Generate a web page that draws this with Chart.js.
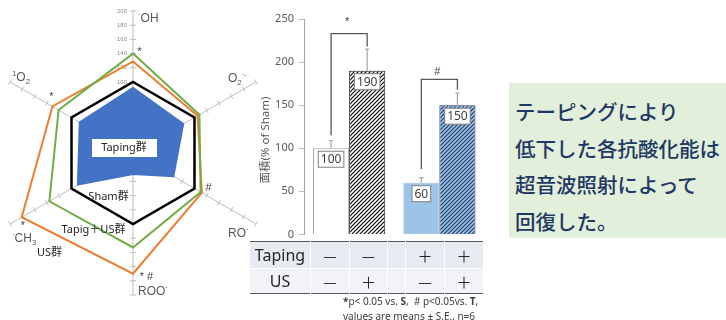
<!DOCTYPE html>
<html lang="ja">
<head>
    <meta charset="UTF-8">
    <title>抗酸化能</title>
    <script src="https://cdn.jsdelivr.net/npm/chart.js"></script>
    <style>
        body {
            margin: 0;
            width: 726px;
            height: 320px;
            position: relative;
            overflow: hidden;
            background: #fff;
            font-family: "Noto Sans", "Noto Sans CJK JP", sans-serif;
        }
        canvas { position: absolute; }
        #radar { left: -9px; top: 3px; }
        #bar { left: 250px; top: 0; }
        #cond {
            position: absolute;
            left: 250px;
            top: 241px;
            width: 228px;
            table-layout: fixed;
            border-collapse: collapse;
            border-top: 1.5px solid #595959;
            border-bottom: 1.5px solid #595959;
            color: #262626;
        }
        #cond td {
            padding: 0;
            text-align: center;
            border-left: 1.5px solid #fff;
            line-height: 1;
        }
        #cond tr:first-child td { background: #e8ebf2; height: 26px; }
        #cond tr:last-child td { background: #f2f3f8; height: 24px; border-top: 1.5px solid #fff; }
        #cond td.lab { font-size: 16px; border-left: none; }
        #cond td.sign { font-size: 15px; font-family: "Noto Sans CJK JP", sans-serif; }
        #note {
            position: absolute;
            left: 343px;
            top: 294px;
            font-size: 10px;
            line-height: 15px;
            color: #404040;
            white-space: nowrap;
        }
        #msg {
            position: absolute;
            left: 509px;
            top: 83px;
            width: 211px;
            height: 145px;
            padding: 10px 0 0 6px;
            background: #e2efda;
            color: #1f3864;
            font-family: "Noto Sans CJK JP", sans-serif;
            font-size: 20.5px;
            font-weight: 500;
            line-height: 36.5px;
            white-space: nowrap;
        }
    </style>
</head>
<body>
    <canvas id="radar" width="284" height="300"></canvas>
    <canvas id="bar" width="240" height="246"></canvas>
    <table id="cond"></table>
    <div id="note"><b>*</b>p&lt; 0.05 vs. <b>S</b>,&nbsp; # p&lt;0.05vs. <b>T</b>,<br>values are means ± S.E., n=6</div>
    <div id="msg">テーピングにより<br>低下した各抗酸化能は<br>超音波照射によって<br>回復した。</div>

    <script>
        // ---- radar data (% of Sham) ----
        const radicals = ['OH', 'O2', 'RO', 'ROO', 'CH3', '1O2'];
        const shamVals = [100, 100, 100, 100, 100, 100];
        const tapingVals = [92, 82, 66, 30, 90, 87];
        const tapingUsVals = [140, 108, 110, 133, 136, 121];
        const usVals = [129, 105, 112, 170, 181, 131];

        // ---- bar data ----
        const tapingGroups = ['Taping −', 'Taping +'];
        const usMinusVals = [100, 60];
        const usPlusVals = [190, 150];
        const usMinusErr = [9, 6];
        const usPlusErr = [25, 14];
        const bracketFrom = [115, 76];
        const bracketTop = [233, 180];
        const bracketTo = [218, 168];
        const bracketMark = ['*', '#'];
        const bracketMarkAt = [247, 189];

        // ---- table below bars ----
        const rowLabels = ['Taping', 'US'];
        const tapingSigns = ['—', '—', '', '＋', '＋'];
        const usSigns = ['—', '＋', '', '—', '＋'];

        Chart.defaults.font.family = '"Noto Sans", "Noto Sans CJK JP", sans-serif';

        // label pieces: s = sub / sup
        const labelParts = [
            [{ t: '·', s: 'sup' }, { t: 'OH' }],
            [{ t: 'O' }, { t: '2', s: 'sub' }, { t: '·-', s: 'sup' }],
            [{ t: 'RO' }, { t: '·', s: 'sup' }],
            [{ t: 'ROO' }, { t: '·', s: 'sup' }],
            [{ t: '·', s: 'sup' }, { t: 'CH' }, { t: '3', s: 'sub' }],
            [{ t: '1', s: 'sup' }, { t: 'O' }, { t: '2', s: 'sub' }]
        ];
        const labelShift = [[5, 11], [-28, 0], [-28, 13], [5, 0], [2, 18], [2, -1]];

        function richText(ctx, x, y, parts, size) {
            parts.forEach(p => {
                const fs = p.s ? size * 0.65 : size;
                ctx.font = fs + 'px "Liberation Sans", sans-serif';
                const dy = p.s === 'sub' ? size * 0.22 : p.s === 'sup' ? -size * 0.42 : 0;
                ctx.fillText(p.t, x, y + dy);
                x += ctx.measureText(p.t).width;
            });
        }

        const radarDecor = {
            id: 'radarDecor',
            beforeDatasetsDraw(chart) {
                const s = chart.scales.r;
                const ctx = chart.ctx;
                ctx.save();
                // small tick marks across each axis
                ctx.strokeStyle = '#bfbfbf';
                ctx.lineWidth = 1;
                for (let i = 0; i < radicals.length; i++) {
                    s.ticks.forEach(tk => {
                        if (tk.value === 0) return;
                        const p = s.getPointPositionForValue(i, tk.value);
                        const nx = -Math.sin(p.angle) * 3, ny = Math.cos(p.angle) * 3;
                        ctx.beginPath();
                        ctx.moveTo(p.x - nx, p.y - ny);
                        ctx.lineTo(p.x + nx, p.y + ny);
                        ctx.stroke();
                    });
                }
                // tick numbers on the top axis
                ctx.fillStyle = '#8c8c8c';
                ctx.font = '6px "Liberation Sans", sans-serif';
                ctx.textAlign = 'right';
                ctx.textBaseline = 'middle';
                s.ticks.forEach(tk => {
                    if (tk.value < 100) return;
                    const p = s.getPointPositionForValue(0, tk.value);
                    ctx.fillText(tk.value, p.x - 6, p.y);
                });
                ctx.restore();
            },
            afterDatasetsDraw(chart) {
                const s = chart.scales.r;
                const ctx = chart.ctx;
                const cx = s.xCenter, cy = s.yCenter;
                ctx.save();
                ctx.fillStyle = '#595959';
                ctx.textBaseline = 'alphabetic';
                ctx.textAlign = 'left';
                labelParts.forEach((parts, i) => {
                    const end = s.getPointPosition(i, s.drawingArea);
                    richText(ctx, end.x + labelShift[i][0], end.y + labelShift[i][1], parts, 12);
                });

                // group names
                ctx.fillStyle = '#fff';
                ctx.fillRect(cx - 41, cy - 14, 65, 18);
                ctx.fillStyle = '#262626';
                ctx.font = '11px "Noto Sans", "Noto Sans CJK JP", sans-serif';
                ctx.textAlign = 'center';
                ctx.textBaseline = 'middle';
                ctx.fillText('Taping群', cx - 9, cy - 5);
                ctx.fillText('Sham群', cx - 24.5, cy + 44);
                ctx.fillText('Tapig＋US群', cx - 39.5, cy + 76.5);
                ctx.fillText('US群', cx - 83.5, cy + 99.5);

                // significance marks
                ctx.fillStyle = '#404040';
                ctx.font = '11px "Liberation Sans", sans-serif';
                [['*', 6.5, -101], ['*', -81.5, -56.5], ['#', 75.5, 35], ['*', -110, 73], ['* #', 13.5, 124]]
                    .forEach(m => ctx.fillText(m[0], cx + m[1], cy + m[2]));
                ctx.restore();
            }
        };

        new Chart(document.getElementById('radar'), {
            type: 'radar',
            data: {
                labels: radicals,
                datasets: [
                    { label: 'Taping群', data: tapingVals, fill: true, backgroundColor: '#4472c4', borderColor: '#4472c4', borderWidth: 1.5 },
                    { label: 'Sham群', data: shamVals, fill: false, borderColor: '#000', borderWidth: 2.5 },
                    { label: 'Tapig＋US群', data: tapingUsVals, fill: false, borderColor: '#70ad47', borderWidth: 2 },
                    { label: 'US群', data: usVals, fill: false, borderColor: '#ed7d31', borderWidth: 2 }
                ]
            },
            options: {
                responsive: false,
                animation: false,
                elements: { point: { radius: 0 }, line: { tension: 0, borderJoinStyle: 'miter' } },
                plugins: { legend: { display: false }, tooltip: { enabled: false } },
                scales: {
                    r: {
                        min: 0,
                        max: 200,
                        ticks: { stepSize: 20, display: false },
                        grid: { display: false },
                        angleLines: { color: '#bfbfbf', lineWidth: 1 },
                        pointLabels: { display: false }
                    }
                }
            },
            plugins: [radarDecor]
        });

        // diagonal hatching
        function hatch(bg, fg) {
            const c = document.createElement('canvas');
            c.width = c.height = 4;
            const g = c.getContext('2d');
            g.fillStyle = bg;
            g.fillRect(0, 0, 4, 4);
            g.strokeStyle = fg;
            g.lineWidth = 1.1;
            g.beginPath();
            g.moveTo(-1, 5); g.lineTo(5, -1);
            g.moveTo(-1, 1); g.lineTo(1, -1);
            g.moveTo(3, 5); g.lineTo(5, 3);
            g.stroke();
            return document.getElementById('bar').getContext('2d').createPattern(c, 'repeat');
        }

        const barDecor = {
            id: 'barDecor',
            afterDatasetsDraw(chart) {
                const ctx = chart.ctx;
                const y = chart.scales.y;
                const m0 = chart.getDatasetMeta(0).data;
                const m1 = chart.getDatasetMeta(1).data;
                ctx.save();

                // error bars (upper half)
                ctx.strokeStyle = '#a6a6a6';
                ctx.lineWidth = 1.2;
                [[m0, usMinusVals, usMinusErr], [m1, usPlusVals, usPlusErr]].forEach(([els, vals, errs]) => {
                    els.forEach((el, i) => {
                        const top = y.getPixelForValue(vals[i] + errs[i]);
                        ctx.beginPath();
                        ctx.moveTo(el.x, el.y);
                        ctx.lineTo(el.x, top);
                        ctx.moveTo(el.x - 2, top);
                        ctx.lineTo(el.x + 2, top);
                        ctx.stroke();
                    });
                });

                // brackets
                ctx.strokeStyle = '#595959';
                ctx.lineWidth = 1.3;
                ctx.fillStyle = '#404040';
                ctx.font = '11px "Liberation Sans", sans-serif';
                ctx.textAlign = 'center';
                ctx.textBaseline = 'middle';
                for (let k = 0; k < 2; k++) {
                    const xl = m0[k].x, xr = m1[k].x;
                    const yt = y.getPixelForValue(bracketTop[k]);
                    ctx.beginPath();
                    ctx.moveTo(xl, y.getPixelForValue(bracketFrom[k]));
                    ctx.lineTo(xl, yt);
                    ctx.lineTo(xr, yt);
                    ctx.lineTo(xr, y.getPixelForValue(bracketTo[k]));
                    ctx.stroke();
                    ctx.fillText(bracketMark[k], (xl + xr) / 2 - 2, y.getPixelForValue(bracketMarkAt[k]));
                }

                // value boxes
                ctx.font = '12px "Noto Sans", sans-serif';
                ctx.lineWidth = 1;
                [[m0, usMinusVals], [m1, usPlusVals]].forEach(([els, vals]) => {
                    els.forEach((el, i) => {
                        const txt = String(vals[i]);
                        const w = ctx.measureText(txt).width + 5;
                        const h = 16;
                        const top = el.y + 3;
                        ctx.fillStyle = '#fff';
                        ctx.fillRect(el.x - w / 2, top, w, h);
                        ctx.strokeStyle = '#7f7f7f';
                        ctx.strokeRect(el.x - w / 2, top, w, h);
                        ctx.fillStyle = '#404040';
                        ctx.fillText(txt, el.x, top + h / 2 + 0.5);
                    });
                });

                // y title
                ctx.translate(16, 140);
                ctx.rotate(-Math.PI / 2);
                ctx.fillStyle = '#595959';
                ctx.font = '11.5px "Noto Sans", "Noto Sans CJK JP", sans-serif';
                ctx.fillText('面積(% of Sham)', 0, 0);
                ctx.restore();
            }
        };

        new Chart(document.getElementById('bar'), {
            type: 'bar',
            data: {
                labels: tapingGroups,
                datasets: [
                    {
                        label: 'US −',
                        data: usMinusVals,
                        backgroundColor: ['#ffffff', '#9dc3e6'],
                        borderColor: ['#a6a6a6', '#9dc3e6'],
                        borderWidth: 1
                    },
                    {
                        label: 'US +',
                        data: usPlusVals,
                        backgroundColor: [hatch('#ffffff', '#000000'), hatch('#9dc3e6', '#1f3864')],
                        borderColor: ['#262626', '#1f3864'],
                        borderWidth: 1
                    }
                ]
            },
            options: {
                responsive: false,
                animation: false,
                layout: { padding: { top: 19, right: 5.5, bottom: 9.3, left: 0 } },
                datasets: { bar: { categoryPercentage: 0.8, barPercentage: 1.0 } },
                plugins: { legend: { display: false }, tooltip: { enabled: false } },
                scales: {
                    x: { display: false },
                    y: {
                        min: 0,
                        max: 250,
                        ticks: { stepSize: 50, color: '#595959', font: { size: 11 }, padding: 5 },
                        grid: { drawOnChartArea: false, tickLength: 5, color: '#bfbfbf' },
                        border: { color: '#a6a6a6' },
                        afterFit: s => { s.width = 54; }
                    }
                }
            },
            plugins: [barDecor]
        });

        // condition table
        const table = document.getElementById('cond');
        [tapingSigns, usSigns].forEach((signs, r) => {
            const tr = document.createElement('tr');
            const lab = document.createElement('td');
            lab.className = 'lab';
            lab.textContent = rowLabels[r];
            tr.appendChild(lab);
            signs.forEach(sg => {
                const td = document.createElement('td');
                td.className = 'sign';
                td.textContent = sg;
                tr.appendChild(td);
            });
            table.appendChild(tr);
        });
        const widths = [60, 38, 37, 17, 38, 38];
        Array.from(table.rows[0].cells).forEach((c, i) => { c.style.width = widths[i] + 'px'; });
    </script>
</body>
</html>
